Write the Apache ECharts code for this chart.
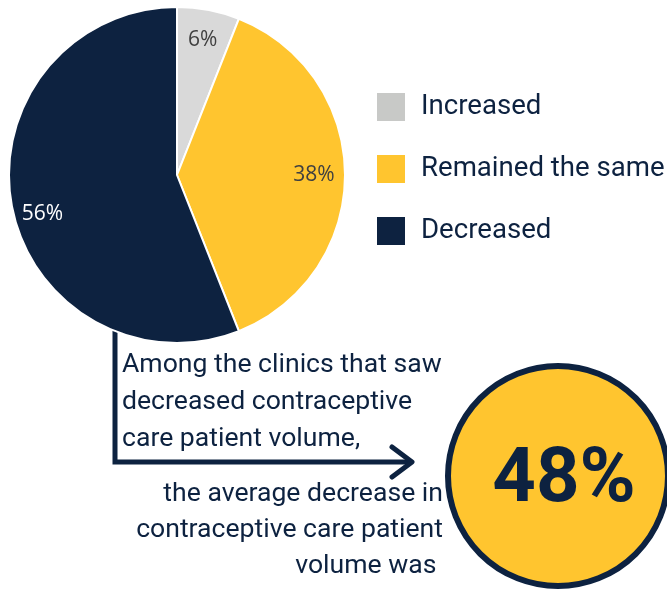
<!DOCTYPE html>
<html>
<head>
<meta charset="utf-8">
<style>
html,body{margin:0;padding:0;background:#fff;}
#chart{width:667px;height:591px;}
</style>
<script src="https://cdn.jsdelivr.net/npm/echarts@6/dist/echarts.min.js"></script>
</head>
<body>
<div id="chart"></div>
<script>
var categories = ['Increased', 'Remained the same', 'Decreased'];
var values = [6, 38, 56];
var sliceColors = ['#D9D9D9', '#FFC52F', '#0D2240'];
var legendColors = ['#C8C9C7', '#FFC52F', '#0D2240'];
var labelColors = ['#404040', '#404040', '#FFFFFF'];
var labelFormats = ['{c}%', '{c}%', '\n{c}%'];
var noteTop = ['Among the clinics that saw', 'decreased contraceptive', 'care patient volume,'];
var noteBottom = ['the average decrease in', 'contraceptive care patient', 'volume was '];
var highlight = '48%';

var NAVY = '#0D2240';
var chart = echarts.init(document.getElementById('chart'));

var pieData = categories.map(function (c, i) {
  return { name: c, value: values[i], itemStyle: { color: sliceColors[i] } };
});
var labelData = categories.map(function (c, i) {
  return { name: c, value: values[i], label: { color: labelColors[i], formatter: labelFormats[i] } };
});

var graphics = [];
graphics.push({
  type: 'polyline', z: 1,
  shape: { points: [[115, 322], [115, 462], [412, 462]] },
  style: { stroke: NAVY, lineWidth: 5, fill: null, lineJoin: 'miter' }
});
graphics.push({
  type: 'polyline', z: 1,
  shape: { points: [[392, 447], [412, 462], [392, 477]] },
  style: { stroke: NAVY, lineWidth: 5, fill: null, lineJoin: 'round', lineCap: 'round' }
});
graphics.push({
  type: 'circle', z: 1,
  shape: { cx: 558, cy: 476, r: 110 },
  style: { fill: '#FFC52F', stroke: NAVY, lineWidth: 6 }
});
graphics.push({
  type: 'text', z: 2, x: 564, y: 482,
  style: { text: highlight, font: 'bold 76px Roboto', fill: NAVY, align: 'center', verticalAlign: 'middle' }
});
var topBase = [373, 410, 447];
noteTop.forEach(function (t, i) {
  graphics.push({
    type: 'text', z: 2, x: 122, y: topBase[i] - 8,
    style: { text: t, font: '26.6px Roboto', fill: NAVY, align: 'left', verticalAlign: 'middle' }
  });
});
var botBase = [503, 539, 575];
noteBottom.forEach(function (t, i) {
  graphics.push({
    type: 'text', z: 2, x: 443, y: botBase[i] - 9,
    style: { text: t, font: '26.6px Roboto', fill: NAVY, align: 'right', verticalAlign: 'middle' }
  });
});

chart.setOption({
  animation: false,
  legend: {
    orient: 'vertical',
    left: 370, top: 86,
    itemWidth: 30, itemHeight: 30, itemGap: 30,
    icon: 'rect',
    selectedMode: false,
    textStyle: { fontFamily: 'Roboto', fontSize: 27.6, color: NAVY, padding: [0, 0, 0, 10] },
    data: categories.map(function (c, i) {
      return { name: c, itemStyle: { color: legendColors[i] } };
    })
  },
  graphic: graphics,
  series: [
    {
      type: 'pie', z: 3,
      center: [177, 175], radius: [0, 168],
      startAngle: 90, clockwise: true,
      label: { show: false }, labelLine: { show: false },
      itemStyle: { borderColor: '#ffffff', borderWidth: 2 },
      emphasis: { disabled: true },
      data: pieData
    },
    {
      type: 'pie', z: 4, silent: true,
      center: [177, 175], radius: [100, 168],
      startAngle: 90, clockwise: true,
      itemStyle: { color: 'rgba(0,0,0,0)' },
      label: { show: true, position: 'inside', fontFamily: 'Open Sans', fontSize: 21, lineHeight: 26 },
      labelLine: { show: false },
      emphasis: { disabled: true },
      legendHoverLink: false,
      data: labelData
    }
  ]
});
</script>
</body>
</html>
